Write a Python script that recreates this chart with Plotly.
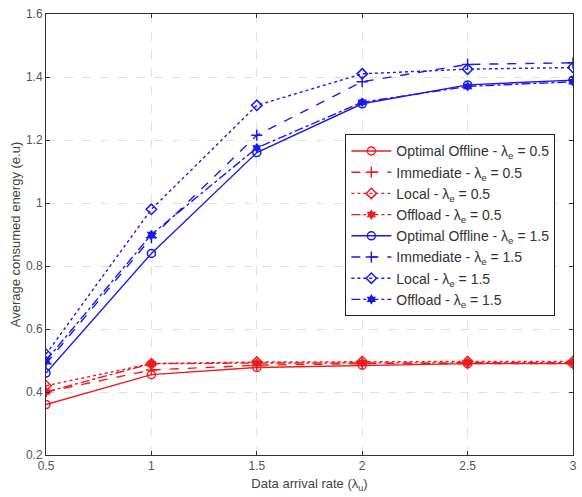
import plotly.graph_objects as go

x = [0.5, 1, 1.5, 2, 2.5, 3]

opt_05 = [0.36, 0.455, 0.478, 0.485, 0.49, 0.49]
imm_05 = [0.40, 0.47, 0.485, 0.49, 0.49, 0.49]
loc_05 = [0.42, 0.49, 0.495, 0.497, 0.497, 0.497]
off_05 = [0.40, 0.49, 0.492, 0.493, 0.493, 0.493]

opt_15 = [0.46, 0.84, 1.16, 1.315, 1.375, 1.39]
imm_15 = [0.49, 0.89, 1.215, 1.385, 1.44, 1.445]
loc_15 = [0.52, 0.98, 1.31, 1.41, 1.425, 1.43]
off_15 = [0.50, 0.90, 1.175, 1.32, 1.37, 1.385]

names = ["Optimal Offline", "Immediate", "Local", "Offload"]
dashes = ["solid", "dash", "dot", "dashdot"]
symbols = ["circle-open", "cross-thin-open", "diamond-open", "hexagram"]

series = [
    (opt_05, 0, "0.5", "#ee1c1c"),
    (imm_05, 1, "0.5", "#ee1c1c"),
    (loc_05, 2, "0.5", "#ee1c1c"),
    (off_05, 3, "0.5", "#ee1c1c"),
    (opt_15, 0, "1.5", "#1a1aee"),
    (imm_15, 1, "1.5", "#1a1aee"),
    (loc_15, 2, "1.5", "#1a1aee"),
    (off_15, 3, "1.5", "#1a1aee"),
]

fig = go.Figure()
for ys, k, lam, col in series:
    fig.add_trace(go.Scatter(
        x=x, y=ys, mode="lines+markers",
        name=f"{names[k]} - λ<sub>e</sub> = {lam}",
        line=dict(color=col, width=1.4, dash=dashes[k]),
        marker=dict(symbol=symbols[k], size=8 if k != 3 else 6, color=col,
                    line=dict(color=col, width=1.5)),
    ))

fig.update_layout(
    width=582, height=497,
    margin=dict(l=46, r=5, t=14, b=42),
    paper_bgcolor="white", plot_bgcolor="white",
    font=dict(family="Liberation Sans, Arial, sans-serif", size=12, color="#555"),
    showlegend=True,
    legend=dict(x=0.568, y=0.727, xanchor="left", yanchor="top",
                bgcolor="white", bordercolor="#222", borderwidth=1,
                font=dict(size=14, color="#333"), tracegroupgap=0,
                itemwidth=40),
)
fig.update_xaxes(
    range=[0.5, 3], tickvals=[0.5, 1, 1.5, 2, 2.5, 3],
    ticktext=["0.5", "1", "1.5", "2", "2.5", "3"],
    showgrid=True, gridcolor="#e2e2e2", griddash="dash", gridwidth=1,
    showline=True, linecolor="#333", linewidth=1, mirror="ticks",
    ticks="inside", ticklen=4, tickcolor="#333", zeroline=False,
    title=dict(text="Data arrival rate (λ<sub>u</sub>)", standoff=6, font=dict(size=13, color="#444")),
)
fig.update_yaxes(
    range=[0.2, 1.6], tickvals=[0.2, 0.4, 0.6, 0.8, 1, 1.2, 1.4, 1.6],
    ticktext=["0.2", "0.4", "0.6", "0.8", "1", "1.2", "1.4", "1.6"],
    showgrid=True, gridcolor="#e2e2e2", griddash="dash", gridwidth=1,
    showline=True, linecolor="#333", linewidth=1, mirror="ticks",
    ticks="inside", ticklen=4, tickcolor="#333", zeroline=False,
    title=dict(text="Average consumed energy (e.u)", standoff=2, font=dict(size=13, color="#444")),
)

fig.write_html("out.html")
